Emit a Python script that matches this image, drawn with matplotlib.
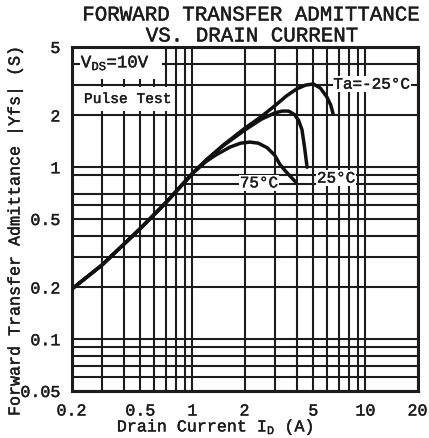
import matplotlib
matplotlib.use('Agg')
import matplotlib.pyplot as plt
import matplotlib.patheffects as pe
from matplotlib.ticker import FixedLocator, FixedFormatter, NullFormatter
from matplotlib.patches import Rectangle

plt.rcParams['font.family'] = ['Liberation Mono', 'DejaVu Sans']
plt.rcParams['mathtext.default'] = 'regular'

# ---- data ----
id_m25 = [0.2, 0.3, 0.5, 0.7, 1.0, 1.2, 1.5, 2.0, 2.5, 3.0, 3.5, 4.0, 4.5, 5.0, 5.5, 6.0, 6.3, 6.5]
yfs_m25 = [0.195, 0.27, 0.44, 0.62, 0.92, 1.1, 1.34, 1.68, 1.97, 2.28, 2.6, 2.85, 3.0, 3.05, 2.88, 2.55, 2.3, 2.05]

id_25 = [0.2, 0.3, 0.5, 0.7, 1.0, 1.2, 1.5, 2.0, 2.5, 3.0, 3.3, 3.6, 3.9, 4.1, 4.3, 4.45, 4.6]
yfs_25 = [0.195, 0.27, 0.44, 0.62, 0.92, 1.1, 1.33, 1.64, 1.9, 2.07, 2.12, 2.12, 2.02, 1.88, 1.65, 1.3, 1.0]

id_75 = [0.2, 0.3, 0.5, 0.7, 1.0, 1.2, 1.35, 1.65, 1.9, 2.15, 2.4, 2.7, 3.0, 3.2, 3.45, 3.7, 3.95]
yfs_75 = [0.195, 0.27, 0.44, 0.62, 0.92, 1.08, 1.17, 1.31, 1.38, 1.40, 1.38, 1.3, 1.17, 1.04, 0.95, 0.88, 0.82]

x_ticks = [0.2, 0.5, 1, 2, 5, 10, 20]
x_tick_labels = ['0.2', '0.5', '1', '2', '5', '10', '20']
y_ticks = [0.05, 0.1, 0.2, 0.5, 1, 2, 5]
y_tick_labels = ['0.05', '0.1', '0.2', '0.5', '1', '2', '5']

x_minor_grid = [0.3, 0.4, 0.6, 0.7, 0.8, 0.9, 3, 4, 6, 7, 8, 9]
y_minor_grid = [0.06, 0.07, 0.08, 0.09, 0.3, 0.4, 0.6, 0.7, 0.9, 3, 4]
y_partial_grid = 0.8

ink = '#1c1c1c'
bold = [pe.withStroke(linewidth=0.3, foreground=ink)]

fig = plt.figure(figsize=(4.29, 4.39), dpi=100)
ax = fig.add_axes([71.5 / 429, 47 / 439, 346 / 429, 344 / 439])
ax.set_xscale('log')
ax.set_yscale('log')
ax.set_xlim(0.2, 20)
ax.set_ylim(0.05, 5)

ax.xaxis.set_major_locator(FixedLocator(x_ticks))
ax.xaxis.set_major_formatter(FixedFormatter(x_tick_labels))
ax.xaxis.set_minor_locator(FixedLocator(x_minor_grid))
ax.xaxis.set_minor_formatter(NullFormatter())
ax.yaxis.set_major_locator(FixedLocator(y_ticks))
ax.yaxis.set_major_formatter(FixedFormatter(y_tick_labels))
ax.yaxis.set_minor_locator(FixedLocator(y_minor_grid))
ax.yaxis.set_minor_formatter(NullFormatter())

ax.grid(which='both', color=ink, lw=1.5)
ax.axhline(y_partial_grid, xmin=0.32, xmax=1, color=ink, lw=1.5, zorder=0.5)
ax.set_axisbelow(True)
ax.tick_params(which='both', length=0, labelsize=12, colors=ink)
ax.tick_params(axis='x', pad=9)
ax.tick_params(axis='y', pad=8)
for lab in ax.get_xticklabels() + ax.get_yticklabels():
    lab.set_path_effects(bold)
for s in ax.spines.values():
    s.set_linewidth(2.2)
    s.set_color(ink)

# white boxes of the condition legend
ax.add_patch(Rectangle((0.025, 0.907), 0.238, 0.087, transform=ax.transAxes,
                       facecolor='white', edgecolor='none', zorder=2))
ax.add_patch(Rectangle((0.004, 0.814), 0.272, 0.07, transform=ax.transAxes,
                       facecolor='white', edgecolor='none', zorder=2))

for xs, ys in [(id_m25, yfs_m25), (id_25, yfs_25), (id_75, yfs_75)]:
    ax.plot(xs, ys, color='#111111', lw=2.5, solid_capstyle='round', zorder=3)

ax.text(0.027, 0.953, 'V$_{DS}$=10V', transform=ax.transAxes, fontsize=12.5,
        ha='left', va='center', color=ink, zorder=4, path_effects=bold)
ax.text(0.036, 0.849, 'Pulse Test', transform=ax.transAxes, fontsize=10.5,
        ha='left', va='center', color=ink, zorder=4, path_effects=bold)

lbl = dict(transform=ax.transAxes, fontsize=11.5, ha='center', va='center', color=ink,
           zorder=4, path_effects=bold,
           bbox=dict(facecolor='white', edgecolor='none', pad=0.5))
ax.text(0.868, 0.892, 'Ta=-25°C', **lbl)
ax.text(0.542, 0.605, '75°C', **lbl)
ax.text(0.765, 0.619, '25°C', **lbl)

fig.text(251 / 429, 1 - 16 / 439, 'FORWARD TRANSFER ADMITTANCE', fontsize=15,
         ha='center', va='center', color=ink, path_effects=bold)
fig.text(252 / 429, 1 - 37 / 439, 'VS. DRAIN CURRENT', fontsize=15,
         ha='center', va='center', color=ink, path_effects=bold)
fig.text(215 / 429, 1 - 428 / 439, 'Drain Current I$_D$ (A)', fontsize=12,
         ha='center', va='center', color=ink, path_effects=bold)
fig.text(15 / 429, 1 - 232 / 439, 'Forward Transfer Admittance |Yfs| (S)', fontsize=12,
         rotation=90, ha='center', va='center', color=ink, path_effects=bold)

fig.savefig('out.png', dpi=100)
